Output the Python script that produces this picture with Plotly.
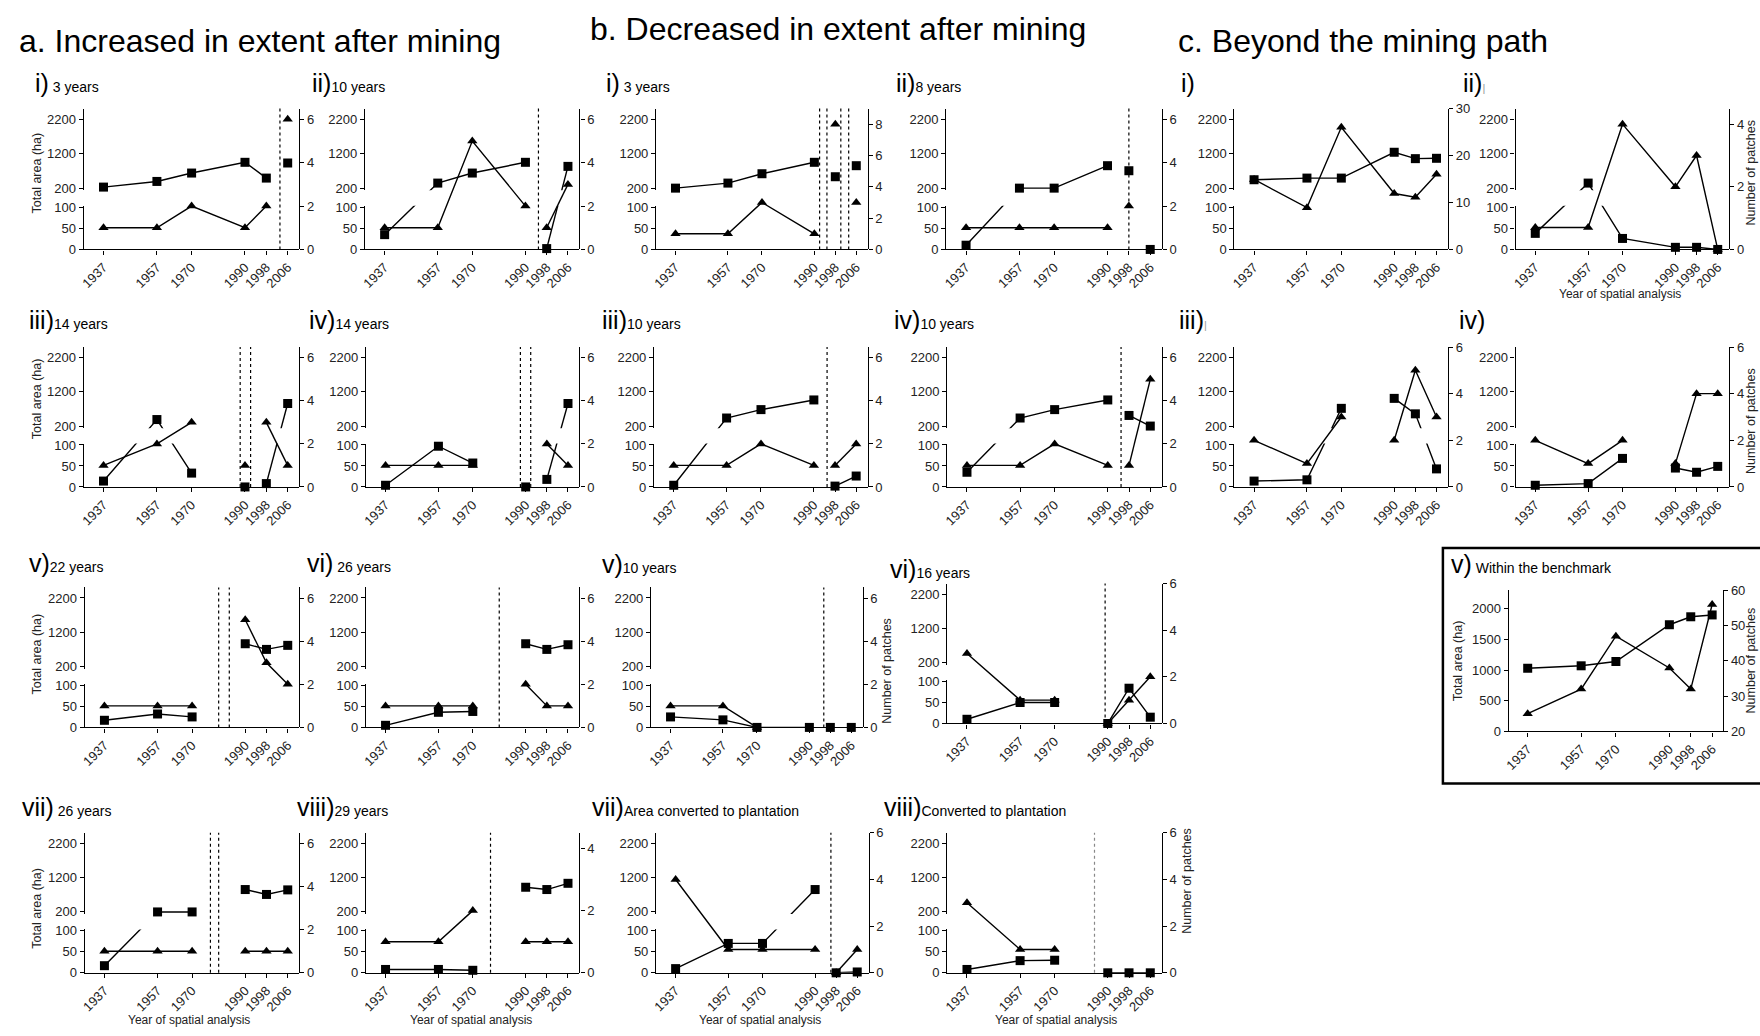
import plotly.graph_objects as go

W, H = 1760, 1036
YEARS = [1937, 1957, 1970, 1990, 1998, 2006]
YEAR_LABELS = [str(y) for y in YEARS]

# ---------------- data: total area (ha) = squares, number of patches = triangles
a_i_area = [230, 394, 637, 948, 491, 928]
a_i_patches = [1, 1, 2, 1, 2, 6]
a_ii_area = [35, 346, 637, 948, 2, 830]
a_ii_patches = [1, 1, 5, 2, 1, 3]
a_iii_area = [14, 390, 33, 0, 8, 858]
a_iii_patches = [1, 2, 3, 1, 3, 1]
a_iv_area = [4, 97, 57, 0, 18, 858]
a_iv_patches = [1, 1, 1, None, 2, 1]
a_v_area = [17, 32, 25, 865, 700, 818]
a_v_patches = [1, 1, 1, 5, 3, 2]
a_vi_area = [5, 36, 38, 865, 700, 836]
a_vi_patches = [1, 1, 1, 2, 1, 1]
a_vii_area = [17, 200, 200, 853, 710, 843]
a_vii_patches = [1, 1, 1, 1, 1, 1]
a_viii_area = [8, 8, 6, 920, 853, 1035]
a_viii_patches = [1, 1, 2, 1, 1, 1]

b_i_area = [200, 346, 617, 948, 530, 850]
b_i_patches = [1, 1, 3, 1, 8, 3]
b_ii_area = [10, 200, 200, 850, 704, 0]
b_ii_patches = [1, 1, 1, 1, 2, None]
b_iii_area = [4, 435, 680, 962, 2, 26]
b_iii_patches = [1, 1, 2, 1, 1, 2]
b_iv_area = [35, 435, 680, 962, 510, 200]
b_iv_patches = [1, 1, 2, 1, 1, 5]
b_v_area = [25, 18, 0, 0, 0, 0]
b_v_patches = [1, 1, 0, None, None, None]
b_vi_area = [10, 50, 50, 0, 84, 15]
b_vi_patches = [3, 1, 1, 0, 1, 2]
b_vii_area = [10, 70, 70, 853, 0, 2]
b_vii_patches = [4, 1, 1, 1, 0, 1]
b_viii_area = [8, 29, 30, 0, 0, 0]
b_viii_patches = [3, 1, 1, None, None, None]

c_i_area = [443, 491, 491, 1239, 1054, 1064]
c_i_patches = [14.9, 8.9, 26, 11.9, 11.1, 16]
c_ii_area = [38, 346, 26, 5, 5, 0]
c_ii_patches = [0.7, 0.7, 4, 2, 3, 0]
c_iii_area = [14, 17, 717, 1008, 557, 43]
c_iii_patches = [2, 1, 3, 2, 5, 3]
c_iv_area = [4, 8, 68, 45, 35, 49]
c_iv_patches = [2, 1, 2, 1, 4, 4]
c_v_area = [1030, 1070, 1140, 1740, 1870, 1900]
c_v_patches = [25, 32, 47, 38, 32, 56]

BAR = '<span style="font-size:11px;color:#999">|</span>'

# line groups (indices joined by a line) and dashed-line years
PANELS = [
    dict(key='a_i', area=a_i_area, pat=a_i_patches, groups=[[0, 1, 2, 3, 4], [5]], dashed=[2003.1], rmax=6.5, rticks=[0, 2, 4, 6], num='i)', sub=' 3 years'),
    dict(key='a_ii', area=a_ii_area, pat=a_ii_patches, groups=[[0, 1, 2, 3], [4, 5]], dashed=[1994.9], rmax=6.5, rticks=[0, 2, 4, 6], num='ii)', sub='10 years'),
    dict(key='b_i', area=b_i_area, pat=b_i_patches, groups=[[0, 1, 2, 3], [4], [5]], dashed=[1992.0, 1994.8, 2000.1, 2003.1], rmax=9.0, rticks=[0, 2, 4, 6, 8], num='i)', sub=' 3 years'),
    dict(key='b_ii', area=b_ii_area, pat=b_ii_patches, groups=[[0, 1, 2, 3], [4], [5]], dashed=[1998], rmax=6.5, rticks=[0, 2, 4, 6], num='ii)', sub='8 years'),
    dict(key='c_i', area=c_i_area, pat=c_i_patches, groups=[[0, 1, 2, 3, 4, 5]], dashed=[], rmax=30, rticks=[0, 10, 20, 30], num='i)', sub=''),
    dict(key='c_ii', area=c_ii_area, pat=c_ii_patches, groups=[[0, 1, 2, 3, 4, 5]], dashed=[], rmax=4.5, rticks=[0, 2, 4], num='ii)', sub=BAR),
    dict(key='a_iii', area=a_iii_area, pat=a_iii_patches, groups=[[0, 1, 2], [3], [4, 5]], dashed=[1988.2, 1992.1], rmax=6.5, rticks=[0, 2, 4, 6], num='iii)', sub='14 years'),
    dict(key='a_iv', area=a_iv_area, pat=a_iv_patches, groups=[[0, 1, 2], [3], [4, 5]], dashed=[1988.0, 1991.9], rmax=6.5, rticks=[0, 2, 4, 6], num='iv)', sub='14 years'),
    dict(key='b_iii', area=b_iii_area, pat=b_iii_patches, groups=[[0, 1, 2, 3], [4, 5]], dashed=[1995], rmax=6.5, rticks=[0, 2, 4, 6], num='iii)', sub='10 years'),
    dict(key='b_iv', area=b_iv_area, pat=b_iv_patches, groups=[[0, 1, 2, 3], [4, 5]], dashed=[1995], rmax=6.5, rticks=[0, 2, 4, 6], num='iv)', sub='10 years'),
    dict(key='c_iii', area=c_iii_area, pat=c_iii_patches, groups=[[0, 1, 2], [3, 4, 5]], dashed=[], rmax=6, rticks=[0, 2, 4, 6], num='iii)', sub=BAR),
    dict(key='c_iv', area=c_iv_area, pat=c_iv_patches, groups=[[0, 1, 2], [3, 4, 5]], dashed=[], rmax=6, rticks=[0, 2, 4, 6], num='iv)', sub=''),
    dict(key='a_v', area=a_v_area, pat=a_v_patches, groups=[[0, 1, 2], [3, 4, 5]], dashed=[1980, 1984], rmax=6.5, rticks=[0, 2, 4, 6], num='v)', sub='22 years'),
    dict(key='a_vi', area=a_vi_area, pat=a_vi_patches, groups=[[0, 1, 2], [3, 4, 5]], dashed=[1980], rmax=6.5, rticks=[0, 2, 4, 6], num='vi)', sub=' 26 years'),
    dict(key='b_v', area=b_v_area, pat=b_v_patches, groups=[[0, 1, 2, 3], [4], [5]], dashed=[1995.5], rmax=6.5, rticks=[0, 2, 4, 6], num='v)', sub='10 years'),
    dict(key='b_vi', area=b_vi_area, pat=b_vi_patches, groups=[[0, 1, 2], [3, 4, 5]], dashed=[1989], rmax=6, rticks=[0, 2, 4, 6], num='vi)', sub='16 years'),
    dict(key='a_vii', area=a_vii_area, pat=a_vii_patches, groups=[[0, 1, 2], [3, 4, 5]], dashed=[1976.9, 1980], rmax=6.5, rticks=[0, 2, 4, 6], num='vii)', sub=' 26 years'),
    dict(key='a_viii', area=a_viii_area, pat=a_viii_patches, groups=[[0, 1, 2], [3, 4, 5]], dashed=[1976.7], rmax=4.5, rticks=[0, 2, 4], num='viii)', sub='29 years'),
    dict(key='b_vii', area=b_vii_area, pat=b_vii_patches, groups=[[0, 1, 2, 3], [4, 5]], dashed=[1996], rmax=6, rticks=[0, 2, 4, 6], num='vii)', sub='Area converted to plantation'),
    dict(key='b_viii', area=b_viii_area, pat=b_viii_patches, groups=[[0, 1, 2], [3, 4, 5]], dashed=[1985], rmax=6, rticks=[0, 2, 4, 6], num='viii)', sub='Converted to plantation'),
]

# ---------------- layout (pixel boxes: left, right, top, bottom)
BOX = {
    'a_i': (79, 295, 103, 246), 'a_ii': (361, 576, 103, 246),
    'b_i': (653, 865, 103, 246), 'b_ii': (944, 1160, 103, 246),
    'c_i': (1233, 1447, 103, 246), 'c_ii': (1515, 1729, 103, 246),
    'a_iii': (79, 295, 345, 487), 'a_iv': (362, 576, 345, 487),
    'b_iii': (651, 865, 345, 487), 'b_iv': (945, 1160, 345, 487),
    'c_iii': (1233, 1447, 345, 487), 'c_iv': (1515, 1729, 345, 487),
    'a_v': (80, 295, 589, 731), 'a_vi': (362, 576, 589, 731),
    'b_v': (648, 860, 589, 731), 'b_vi': (945, 1160, 585, 727),
    'a_vii': (80, 295, 838, 980), 'a_viii': (362, 576, 838, 980),
    'b_vii': (653, 866, 838, 980), 'b_viii': (945, 1160, 838, 980),
    'c_v': (1508, 1723, 592, 735),
}
TITLE_POS = {
    'a_i': (28, 77), 'a_ii': (306, 77), 'b_i': (601, 77), 'b_ii': (892, 77),
    'c_i': (1177, 77), 'c_ii': (1460, 77),
    'a_iii': (22, 318), 'a_iv': (303, 318), 'b_iii': (597, 318), 'b_iv': (890, 318),
    'c_iii': (1175, 318), 'c_iv': (1456, 318),
    'a_v': (22, 564), 'a_vi': (301, 564), 'b_v': (597, 565), 'b_vi': (886, 570),
    'a_vii': (15, 812), 'a_viii': (291, 812), 'b_vii': (587, 812), 'b_viii': (879, 812),
    'c_v': (1448, 565),
}
XRANGE = [1929.6, 2010.3]
T100, T200, T2200 = 0.30, 0.435, 0.925
LOW_TOP, UP_BOT = 0.31, 0.42
FONT = 'Arial, Liberation Sans, sans-serif'
TICKFONT = dict(family=FONT, size=13, color='#222')
LW = 1.4
MS = 9


def t(v):
    """broken-axis scale for total area"""
    if v is None:
        return None
    if v <= 100:
        return v / 100 * T100
    if v >= 200:
        return T200 + (v - 200) / 2000 * (T2200 - T200)
    return T100 + (v - 100) / 100 * (T200 - T100)


def px(x):
    return x / W


def py(y):
    return 1 - y / H


fig = go.Figure()
layout = {}
shapes = []
annotations = []
counters = {'x': 0, 'y': 0}


def new_axis(p):
    counters[p] += 1
    i = counters[p]
    key = f'{p}axis' if i == 1 else f'{p}axis{i}'
    ref = p if i == 1 else f'{p}{i}'
    return key, ref


def base_axis():
    return dict(showgrid=False, zeroline=False, showline=True, linecolor='black',
                linewidth=LW, ticks='outside', ticklen=4, tickwidth=1.1,
                tickcolor='black', tickfont=TICKFONT)


for P in PANELS:
    L, R, T, B = BOX[P['key']]
    xd = [px(L), px(R)]
    yb, yt = py(B), py(T)
    hp = yt - yb
    xk, xr = new_axis('x')
    ylk, ylr = new_axis('y')
    yuk, yur = new_axis('y')
    yfk, yfr = new_axis('y')
    yrk, yrr = new_axis('y')
    layout[xk] = dict(base_axis(), domain=xd, anchor=ylr, range=XRANGE,
                      tickmode='array', tickvals=YEARS, ticktext=YEAR_LABELS, tickangle=-45)
    layout[ylk] = dict(base_axis(), domain=[yb, yb + LOW_TOP * hp], anchor=xr,
                       range=[0, LOW_TOP], tickmode='array',
                       tickvals=[t(0), t(50), t(100)], ticktext=['0', '50', '100'])
    layout[yuk] = dict(base_axis(), domain=[yb + UP_BOT * hp, yt], anchor=xr,
                       range=[UP_BOT, 1], tickmode='array',
                       tickvals=[t(200), t(1200), t(2200)], ticktext=['200', '1200', '2200'])
    layout[yfk] = dict(domain=[yb, yt], anchor=xr, range=[0, 1], visible=False)
    layout[yrk] = dict(base_axis(), overlaying=yfr, side='right', anchor=xr,
                       range=[0, P['rmax']], tickmode='array', tickvals=P['rticks'],
                       ticktext=[str(v) for v in P['rticks']])

    # triangles: number of patches
    for g in P['groups']:
        idx = [i for i in g if P['pat'][i] is not None]
        if not idx:
            continue
        fig.add_trace(go.Scatter(
            x=[YEARS[i] for i in idx], y=[P['pat'][i] for i in idx],
            xaxis=xr, yaxis=yrr, mode='lines+markers' if len(idx) > 1 else 'markers',
            marker=dict(symbol='triangle-up', size=MS, color='black'),
            line=dict(color='black', width=LW), cliponaxis=False,
            showlegend=False, hoverinfo='skip'))
    # squares: total area (lines drawn on both halves of the broken axis)
    for g in P['groups']:
        if len(g) < 2:
            continue
        for yref in (ylr, yur):
            fig.add_trace(go.Scatter(
                x=[YEARS[i] for i in g], y=[t(P['area'][i]) for i in g],
                xaxis=xr, yaxis=yref, mode='lines',
                line=dict(color='black', width=LW), showlegend=False, hoverinfo='skip'))
    fig.add_trace(go.Scatter(
        x=YEARS, y=[t(v) for v in P['area']], xaxis=xr, yaxis=yfr, mode='markers',
        marker=dict(symbol='square', size=MS, color='black'), cliponaxis=False,
        showlegend=False, hoverinfo='skip'))

    col = '#888' if P['key'] == 'b_viii' else 'black'
    for d in P['dashed']:
        shapes.append(dict(type='line', xref=xr, yref=f'{yfr} domain', x0=d, x1=d,
                           y0=0, y1=1, line=dict(color=col, width=1.2, dash='dot')))

    tx, ty = TITLE_POS[P['key']]
    annotations.append(dict(
        x=px(tx), y=py(ty), xref='paper', yref='paper', xanchor='left', yanchor='middle',
        showarrow=False, font=dict(family=FONT, size=14, color='black'),
        text=f'<span style="font-size:25px">{P["num"]}</span>{P["sub"]}'))

# ---------------- c v) within the benchmark (ordinary axes)
L, R, T, B = BOX['c_v']
xk, xr = new_axis('x')
ylk, ylr = new_axis('y')
yrk, yrr = new_axis('y')
layout[xk] = dict(base_axis(), domain=[px(L), px(R)], anchor=ylr, range=[1929.9, 2010.1],
                  tickmode='array', tickvals=YEARS, ticktext=YEAR_LABELS, tickangle=-45)
layout[ylk] = dict(base_axis(), domain=[py(B), py(T)], anchor=xr, range=[0, 2300],
                   tickmode='array', tickvals=[0, 500, 1000, 1500, 2000])
layout[yrk] = dict(base_axis(), overlaying=ylr, side='right', anchor=xr, range=[20, 60],
                   tickmode='array', tickvals=[20, 30, 40, 50, 60])
fig.add_trace(go.Scatter(x=YEARS, y=c_v_patches, xaxis=xr, yaxis=yrr, mode='lines+markers',
                         marker=dict(symbol='triangle-up', size=MS, color='black'),
                         line=dict(color='black', width=LW), cliponaxis=False,
                         showlegend=False, hoverinfo='skip'))
fig.add_trace(go.Scatter(x=YEARS, y=c_v_area, xaxis=xr, yaxis=ylr, mode='lines+markers',
                         marker=dict(symbol='square', size=MS, color='black'),
                         line=dict(color='black', width=LW), cliponaxis=False,
                         showlegend=False, hoverinfo='skip'))
tx, ty = TITLE_POS['c_v']
annotations.append(dict(x=px(tx), y=py(ty), xref='paper', yref='paper', xanchor='left',
                        yanchor='middle', showarrow=False,
                        font=dict(family=FONT, size=14, color='black'),
                        text='<span style="font-size:25px">v)</span> Within the benchmark'))
shapes.append(dict(type='rect', xref='paper', yref='paper', x0=px(1442), x1=px(1766),
                   y0=py(788), y1=py(549), line=dict(color='black', width=2.5)))

# ---------------- section headers and axis labels
for text, x, y in [('a. Increased in extent after mining', 12, 35),
                   ('b. Decreased in extent after mining', 585, 22),
                   ('c. Beyond the mining path', 1174, 35)]:
    annotations.append(dict(x=px(x), y=py(y), xref='paper', yref='paper', xanchor='left',
                            yanchor='middle', showarrow=False, text=text,
                            font=dict(family=FONT, size=32, color='black')))

for x, y in [(32, 168), (32, 397), (32, 656), (32, 914), (1458, 663)]:
    annotations.append(dict(x=px(x), y=py(y), xref='paper', yref='paper', xanchor='center',
                            yanchor='middle', showarrow=False, text='Total area (ha)',
                            textangle=-90, font=dict(family=FONT, size=12.5, color='#222')))

for x, y in [(885, 673), (1186, 887), (1751, 168), (1751, 420), (1751, 663)]:
    annotations.append(dict(x=px(x), y=py(y), xref='paper', yref='paper', xanchor='center',
                            yanchor='middle', showarrow=False, text='Number of patches',
                            textangle=-90, font=dict(family=FONT, size=12.5, color='#222')))

for x, y in [(185, 1028), (467, 1028), (757, 1028), (1054, 1028), (1620, 291)]:
    annotations.append(dict(x=px(x), y=py(y), xref='paper', yref='paper', xanchor='center',
                            yanchor='middle', showarrow=False, text='Year of spatial analysis',
                            font=dict(family=FONT, size=12, color='#222')))

fig.update_layout(width=W, height=H, margin=dict(l=0, r=0, t=0, b=0),
                  paper_bgcolor='white', plot_bgcolor='rgba(0,0,0,0)',
                  shapes=shapes, annotations=annotations, showlegend=False, **layout)

fig.write_html('out.html', include_plotlyjs=True, full_html=True,
               config={'displayModeBar': False})
